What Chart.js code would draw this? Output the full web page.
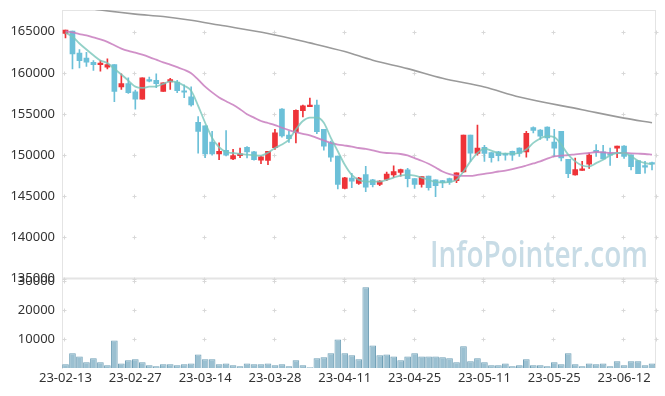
<!DOCTYPE html>
<html>
<head>
<meta charset="utf-8">
<script src="https://cdn.jsdelivr.net/npm/chart.js@4.4.0/dist/chart.umd.min.js"></script>
<style>
  html, body { margin: 0; padding: 0; background: #fff; }
</style>
</head>
<body>
<canvas id="chart" width="665" height="396"></canvas>
<script>
// trading days (23-02-13 .. 23-06-16)
var dates = [
  '23-02-13','23-02-14','23-02-15','23-02-16','23-02-17','23-02-20','23-02-21','23-02-22','23-02-23','23-02-24',
  '23-02-27','23-02-28','23-03-02','23-03-03','23-03-06','23-03-07','23-03-08','23-03-09','23-03-10','23-03-13',
  '23-03-14','23-03-15','23-03-16','23-03-17','23-03-20','23-03-21','23-03-22','23-03-23','23-03-24','23-03-27',
  '23-03-28','23-03-29','23-03-30','23-03-31','23-04-03','23-04-04','23-04-05','23-04-06','23-04-07','23-04-10',
  '23-04-11','23-04-12','23-04-13','23-04-14','23-04-17','23-04-18','23-04-19','23-04-20','23-04-21','23-04-24',
  '23-04-25','23-04-26','23-04-27','23-04-28','23-05-02','23-05-03','23-05-04','23-05-08','23-05-09','23-05-10',
  '23-05-11','23-05-12','23-05-15','23-05-16','23-05-17','23-05-18','23-05-19','23-05-22','23-05-23','23-05-24',
  '23-05-25','23-05-26','23-05-30','23-05-31','23-06-01','23-06-02','23-06-05','23-06-07','23-06-08','23-06-09',
  '23-06-12','23-06-13','23-06-14','23-06-15','23-06-16'
];

var opens = [
  164800,165100,162400,161800,161300,161000,160700,161000,158300,158700,
  157700,156800,159200,159100,157750,158900,158900,157750,157100,154000,
  153550,151600,150150,150600,149550,149950,150950,150400,149400,149350,
  150900,155600,152450,152750,155400,155900,156100,153150,151500,149900,
  145950,147200,146550,147650,147000,146450,147050,147600,147900,148200,
  147150,146450,147450,147000,146900,147150,146900,147950,152450,150200,
  150950,150300,150400,150150,150450,150850,150400,153350,153050,153400,
  151600,152900,149500,147600,148150,148900,150550,150400,150100,150850,
  151100,150050,149350,148650,149100
];
var highs = [
  165200,165100,162850,162500,161500,161500,161700,161000,159900,159400,
  157900,159400,159500,159900,158800,159350,159100,158550,158300,154700,
  153550,152900,151500,153000,150700,150850,151050,150450,149900,150450,
  153150,155650,152900,155500,156100,156950,156700,153150,151700,149900,
  147300,147800,147300,148650,147050,146900,147950,148700,148300,148400,
  147150,147400,147450,147000,146950,147200,147850,152450,152450,153650,
  151200,150300,150450,150250,150500,150900,152900,153450,153100,153450,
  153150,152900,149500,149650,149250,150250,151300,151200,150850,151100,
  151150,150050,149350,149250,149150
];
var lows = [
  164250,160500,160600,160800,160300,160200,160500,156500,158000,157500,
  155600,156800,158900,158200,157750,158000,157600,157000,155950,150250,
  149700,150000,149450,149900,149450,149700,149650,149400,148950,148850,
  150700,152200,151550,151500,154650,155900,152600,150600,149250,145900,
  145900,146050,146450,145550,146150,146300,146900,147300,147450,146150,
  145950,146100,145750,144950,146050,146450,146650,147900,149250,150000,
  149250,149150,149300,149400,149350,149850,149750,152700,151900,151800,
  149800,149300,147250,147550,148150,148400,149850,149550,148750,149700,
  149600,148200,147750,147800,148200
];
var closes = [
  165200,162300,161500,161300,161000,161200,161000,157750,158700,157600,
  156800,159400,159000,158700,158800,159200,157850,157650,156100,152900,
  150150,150150,150450,150000,149950,150150,150400,149450,149800,150450,
  152700,152350,152000,155450,156000,156100,152850,151100,149750,146450,
  147250,146850,147200,146100,146400,146850,147700,148000,148250,147150,
  146450,147400,146050,146300,146650,146700,147850,152450,150250,150850,
  150200,149700,149950,150000,150000,150200,152650,153000,152300,152100,
  150850,149650,147750,148250,148350,150000,150400,149550,150000,151100,
  149850,148600,147750,148550,148900
];

var volumes = [
  1300,5100,4000,2000,3350,2000,950,9550,1600,2650,
  3000,2000,950,600,1300,1300,950,1300,1600,4700,
  3000,3000,1300,1600,950,600,1600,1300,1300,1600,
  950,1300,600,2650,950,250,3350,3700,5100,9900,
  5100,4400,3000,28000,7800,4400,4700,4000,2650,4000,
  5100,4000,4000,4000,3700,3350,2000,7500,2300,3350,
  2000,950,950,1600,600,950,3000,950,950,600,
  2000,1300,5100,1300,600,1600,1300,1600,600,2300,
  950,2300,2300,950,1600
];

// moving averages
var ma5 = [
  164900,164400,163580,162840,162140,161520,161190,160500,159800,159070,
  158330,158170,158330,158370,158660,158980,158860,158450,157840,156000,
  153940,152100,150960,150380,150260,150140,150060,149970,149950,150300,
  150870,151290,151900,153130,154150,154560,154560,153940,152100,150470,
  148830,147600,146990,146780,146780,146780,146990,147270,147520,147600,
  147520,147270,146990,146740,146660,146740,146990,148010,149240,150260,
  150800,150550,150260,150180,150180,150260,150680,151490,152030,152310,
  152190,151290,150060,149240,148740,148620,149030,149450,149970,150260,
  150260,149850,149320,149030,148910
];
var ma20 = [
  165090,164920,164720,164560,164310,164070,163770,163370,162960,162670,
  162470,162220,161930,161610,161280,161000,160700,160380,159960,159190,
  158330,157630,157020,156550,156120,155590,154980,154560,154150,153910,
  153660,153330,153050,152800,152590,152400,152100,151780,151490,151290,
  151170,151040,150870,150750,150590,150380,150260,150220,150140,149970,
  149640,149320,148950,148500,148010,147680,147520,147480,147480,147600,
  147730,147850,148010,148130,148290,148500,148740,148990,149240,149570,
  149850,149940,150010,150100,150180,150260,150380,150340,150260,150260,
  150260,150220,150180,150140,150060
];
var maLongDays = [0, 5, 10, 14, 18, 22, 29, 35, 40, 44, 49, 54, 60, 65, 74, 80, 84];
var maLongValues = [168250, 167650, 167150, 166850, 166400, 165820, 164800, 163650, 162600, 161550, 160520, 159350, 158280, 157070, 155530, 154500, 153940];

var priceTicks = [135000, 140000, 145000, 150000, 155000, 160000, 165000];
var volumeTicks = [10000, 20000, 30000];

var UP = '#ee3338';
var DOWN = '#6cc0d8';
var GRID = '#e4e4e4';
var tickFont = { family: '"Noto Sans", sans-serif', size: 13 };

var candleColors = closes.map(function(c, i){
  return c >= opens[i] ? UP : DOWN;
});

function noPad(s){
  s.paddingTop = 0;
  s.paddingBottom = 0;
}

var framePlugin = {
  id: 'frame',
  beforeDatasetsDraw: function(chart){
    var ctx = chart.ctx, area = chart.chartArea;
    var x = chart.scales.x, y = chart.scales.y, yv = chart.scales.yv;
    ctx.save();

    // watermark
    ctx.fillStyle = '#c8dce6';
    ctx.font = '600 36px "Open Sans", sans-serif';
    ctx.textBaseline = 'alphabetic';
    ctx.fillText('InfoPointer.com', 430, 267, 218);

    // borders
    ctx.strokeStyle = GRID;
    ctx.lineWidth = 1;
    ctx.beginPath();
    ctx.moveTo(area.left, area.top + 0.5);
    ctx.lineTo(area.right, area.top + 0.5);
    ctx.moveTo(area.right, area.top);
    ctx.lineTo(area.right, area.bottom);
    ctx.stroke();
    ctx.lineWidth = 2;
    ctx.beginPath();
    ctx.moveTo(area.left, y.bottom);
    ctx.lineTo(area.right, y.bottom);
    ctx.stroke();

    // little crosses at grid intersections
    var xs = [];
    for (var i = 0; i < dates.length; i += 10) xs.push(x.getPixelForValue(i) - 1);
    xs.push(area.right);
    var ys = [];
    priceTicks.forEach(function(v){ ys.push(y.getPixelForValue(v)); });
    volumeTicks.forEach(function(v){ ys.push(yv.getPixelForValue(v)); });
    ctx.strokeStyle = '#d8d8d8';
    ctx.lineWidth = 1;
    ctx.beginPath();
    xs.forEach(function(px){
      ys.forEach(function(py){
        var cx = Math.round(px) + 0.5, cy = Math.round(py) + 0.5;
        ctx.moveTo(cx - 2, cy); ctx.lineTo(cx + 2, cy);
        ctx.moveTo(cx, cy - 2); ctx.lineTo(cx, cy + 2);
      });
    });
    ctx.stroke();
    ctx.restore();
  }
};

new Chart(document.getElementById('chart'), {
  data: {
    labels: dates,
    datasets: [
      {
        type: 'line', label: 'MA5', data: ma5, yAxisID: 'y', order: 0,
        borderColor: 'rgba(120,198,186,0.8)', borderWidth: 1.8,
        pointRadius: 0, cubicInterpolationMode: 'monotone'
      },
      {
        type: 'line', label: 'MA20', data: ma20, yAxisID: 'y', order: 0,
        borderColor: 'rgba(200,125,190,0.85)', borderWidth: 1.8,
        pointRadius: 0, cubicInterpolationMode: 'monotone'
      },
      {
        type: 'line', label: 'MA60',
        data: maLongDays.map(function(d, i){ return { x: dates[d], y: maLongValues[i] }; }),
        yAxisID: 'y', order: 0,
        borderColor: '#9a9a9a', borderWidth: 1.6,
        pointRadius: 0, cubicInterpolationMode: 'monotone'
      },
      {
        type: 'bar', label: 'body',
        data: opens.map(function(o, i){ return [o, closes[i]]; }),
        yAxisID: 'y', order: 1, grouped: false,
        backgroundColor: candleColors, barThickness: 5, minBarLength: 1.5
      },
      {
        type: 'bar', label: 'wick',
        data: lows.map(function(l, i){ return [l, highs[i]]; }),
        yAxisID: 'y', order: 2, grouped: false,
        backgroundColor: candleColors, barThickness: 1
      },
      {
        type: 'bar', label: 'volume', data: volumes, yAxisID: 'yv', order: 3, grouped: false,
        backgroundColor: '#9bc0d1', borderColor: '#6f9fb6', borderWidth: 1,
        barPercentage: 1, categoryPercentage: 0.95
      }
    ]
  },
  options: {
    responsive: false,
    animation: false,
    devicePixelRatio: 1,
    layout: { padding: { left: 0, right: 9.5, top: 10, bottom: 0 } },
    plugins: {
      legend: { display: false },
      tooltip: { enabled: false }
    },
    scales: {
      x: {
        type: 'category', offset: true,
        grid: { display: false, drawTicks: false },
        border: { display: false },
        ticks: {
          autoSkip: false, maxRotation: 0, padding: 2, color: '#333', font: tickFont,
          callback: function(v, i){ return i % 10 === 0 ? dates[i] : ''; }
        },
        afterFit: function(s){ s.height = 28; s.paddingLeft = 0; s.paddingRight = 0; }
      },
      y: {
        type: 'linear', position: 'left', stack: 'main', stackWeight: 3, weight: 2,
        min: 135000, max: 167650,
        grid: { display: false, drawTicks: false },
        border: { display: true, color: GRID },
        ticks: { padding: 7, color: '#333', font: tickFont, callback: function(v){ return String(v); } },
        afterBuildTicks: function(s){ s.ticks = priceTicks.map(function(v){ return { value: v }; }); },
        afterFit: function(s){ s.width = 62; noPad(s); }
      },
      yv: {
        type: 'linear', position: 'left', stack: 'main', stackWeight: 1, weight: 1,
        min: 0, max: 31000,
        grid: { display: false, drawTicks: false },
        border: { display: true, color: GRID },
        ticks: { padding: 7, color: '#333', font: tickFont, callback: function(v){ return String(v); } },
        afterBuildTicks: function(s){ s.ticks = volumeTicks.map(function(v){ return { value: v }; }); },
        afterFit: function(s){ s.width = 62; noPad(s); }
      }
    }
  },
  plugins: [framePlugin]
});
</script>
</body>
</html>
